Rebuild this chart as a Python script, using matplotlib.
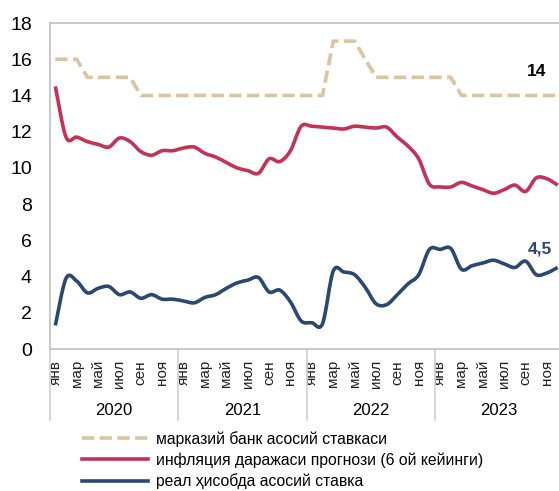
import matplotlib.pyplot as plt
from matplotlib.lines import Line2D
from matplotlib.patches import PathPatch
from matplotlib.path import Path
from matplotlib.transforms import blended_transform_factory

plt.rcParams['font.family'] = ['Liberation Sans', 'DejaVu Sans']

# Ойлар (янв 2020 - дек 2023)
years = ["2020", "2021", "2022", "2023"]
month_labels = ["янв", "", "мар", "", "май", "", "июл", "", "сен", "", "ноя", ""]

# марказий банк асосий ставкаси
policy_rate = [16, 16, 16, 15, 15, 15, 15, 15, 14, 14, 14, 14,
               14, 14, 14, 14, 14, 14, 14, 14, 14, 14, 14, 14,
               14, 14, 17, 17, 17, 16, 15, 15, 15, 15, 15, 15,
               15, 15, 14, 14, 14, 14, 14, 14, 14, 14, 14, 14]

# инфляция даражаси прогнози (6 ой кейинги)
infl_forecast = [14.5, 11.7, 11.7, 11.45, 11.3, 11.15, 11.65, 11.45, 10.9, 10.7, 10.95, 10.95,
                 11.1, 11.15, 10.8, 10.6, 10.3, 10.0, 9.85, 9.7, 10.5, 10.35, 10.95, 12.3,
                 12.3, 12.25, 12.2, 12.15, 12.3, 12.25, 12.2, 12.25, 11.7, 11.2, 10.5, 9.1,
                 8.95, 8.95, 9.2, 9.0, 8.8, 8.6, 8.8, 9.05, 8.7, 9.45, 9.4, 9.05]

# реал ҳисобда асосий ставка
real_rate = [1.3, 3.9, 3.75, 3.1, 3.35, 3.45, 3.0, 3.15, 2.8, 3.0, 2.75, 2.75,
             2.65, 2.55, 2.85, 3.0, 3.35, 3.65, 3.8, 3.95, 3.15, 3.25, 2.6, 1.55,
             1.45, 1.4, 4.3, 4.25, 4.1, 3.4, 2.5, 2.45, 3.0, 3.6, 4.1, 5.5,
             5.5, 5.55, 4.4, 4.6, 4.75, 4.9, 4.7, 4.5, 4.85, 4.1, 4.2, 4.5]

labels = ["марказий банк асосий ставкаси",
          "инфляция даражаси прогнози (6 ой кейинги)",
          "реал ҳисобда асосий ставка"]

x = list(range(len(policy_rate)))

c_tan = "#d9c4a5"
c_red = "#c43254"
c_blue = "#2c4870"


def smooth_path(xs, ys):
    # Excel-га ўхшаш силлиқ чизиқ (Безье, нуқталар орқали)
    pts = list(zip(xs, ys))
    n = len(pts)
    verts = [pts[0]]
    codes = [Path.MOVETO]
    for i in range(n - 1):
        p0 = pts[i - 1] if i > 0 else pts[i]
        p1 = pts[i]
        p2 = pts[i + 1]
        p3 = pts[i + 2] if i + 2 < n else pts[i + 1]
        c1 = (p1[0] + (p2[0] - p0[0]) / 6, p1[1] + (p2[1] - p0[1]) / 6)
        c2 = (p2[0] - (p3[0] - p1[0]) / 6, p2[1] - (p3[1] - p1[1]) / 6)
        verts += [c1, c2, p2]
        codes += [Path.CURVE4] * 3
    return Path(verts, codes)


fig = plt.figure(figsize=(5.59, 4.91), dpi=100)
ax = fig.add_axes([50 / 559, 1 - 349 / 491, 513 / 559, 326 / 491])

ax.plot(x, policy_rate, color=c_tan, lw=2.6, dashes=(3.4, 1.5), dash_capstyle="butt")
ax.add_patch(PathPatch(smooth_path(x, infl_forecast), fill=False, edgecolor=c_red,
                       lw=2.6, joinstyle="round", capstyle="butt"))
ax.add_patch(PathPatch(smooth_path(x, real_rate), fill=False, edgecolor=c_blue,
                       lw=2.6, joinstyle="round", capstyle="butt"))

ax.text(45.0, 15.3, "14", fontsize=12.5, fontweight="bold", color="black",
        ha="center", va="center")
ax.text(45.3, 5.5, "4,5", fontsize=12.5, fontweight="bold", color=c_blue,
        ha="center", va="center")

ax.set_xlim(-0.5, 47.5)
ax.set_ylim(0, 18)
ax.set_yticks(range(0, 19, 2))
ax.tick_params(axis="y", length=0, pad=13, labelsize=14, labelcolor="black")

ax.set_xticks(x)
ax.set_xticklabels(month_labels * len(years), rotation=90, fontsize=11)
ax.tick_params(axis="x", length=0, pad=8, labelcolor="#222222")

for side in ["left", "top", "bottom"]:
    ax.spines[side].set_color("#c0c0c0")
    ax.spines[side].set_linewidth(1.2)
ax.spines["right"].set_visible(False)

# йил ажратгичлари ва йил ёзувлари
trans = blended_transform_factory(ax.transData, ax.transAxes)
for i in range(len(years) + 1):
    ax.plot([12 * i - 0.5, 12 * i - 0.5], [0, -0.218], transform=trans,
            color="#d0d0d0", lw=1.2, clip_on=False)
for i, yr in enumerate(years):
    ax.text(12 * i + 5.5, -0.19, yr, transform=trans, ha="center", va="center",
            fontsize=12)

handles = [Line2D([], [], color=c_tan, lw=2.6, dashes=(3.4, 1.5), dash_capstyle="butt"),
           Line2D([], [], color=c_red, lw=2.6),
           Line2D([], [], color=c_blue, lw=2.6)]
fig.legend(handles, labels, loc="upper left", bbox_to_anchor=(82 / 559, 1 - 431 / 491),
           frameon=False, fontsize=11.3, handlelength=4.2, handletextpad=0.5,
           labelspacing=0.36, borderpad=0, borderaxespad=0)

fig.savefig("out.png", dpi=100)
